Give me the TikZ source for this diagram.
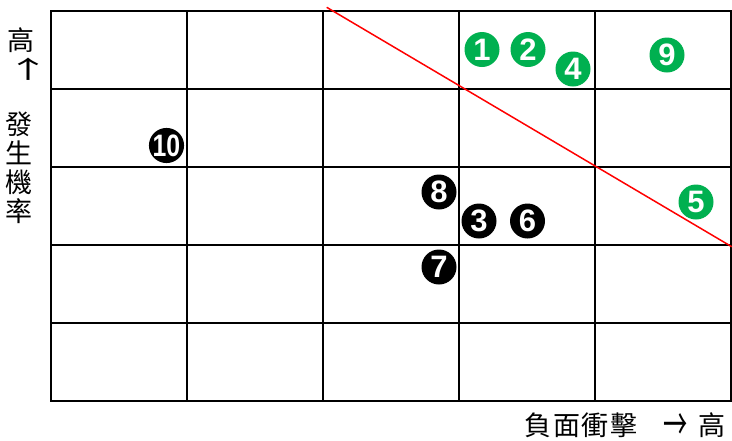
\documentclass[tikz,border=0pt]{standalone}
\usepackage{fontspec}
\newfontfamily\cjk{Noto Sans CJK TC}
\newfontfamily\digitfont{Liberation Sans}
\definecolor{riskgreen}{HTML}{00B050}
\begin{document}
\begin{tikzpicture}[x=1pt,y=-1pt,
  gridline/.style={line width=2.8pt,black},
  riskline/.style={line width=1.5pt,red},
  marker/.style={circle,inner sep=0pt,minimum size=35pt,text=white,
    font=\digitfont\bfseries\fontsize{31}{31}\selectfont},
  greenmark/.style={marker,fill=riskgreen},
  blackmark/.style={marker,fill=black},
  axislabel/.style={font=\cjk\fontsize{27}{29}\selectfont,inner sep=0pt,align=center},
  arrowlabel/.style={font=\cjk\fontseries{m}\fontsize{44}{44}\selectfont,inner sep=0pt}]
\useasboundingbox (0,0) rectangle (732,440);
% grid
\foreach \x in {187,323,459,595} \draw[gridline] (\x,11) -- (\x,401);
\foreach \y in {89,167,245,323} \draw[gridline] (51,\y) -- (731,\y);
\draw[gridline] (51,11) rectangle (731,401);
% red boundary line
\coordinate (rs) at (326.7,7.3);
\coordinate (re) at (731.7,246.7);
\draw[riskline] (rs) -- (re);
% markers
\node[greenmark] (m1) at (482,49.5) {1};
\node[greenmark] (m2) at (528,49.5) {2};
\node[greenmark] (m4) at (573,69) {4};
\node[greenmark] (m9) at (667,55) {9};
\node[greenmark] (m5) at (696,202) {5};
\node[blackmark] (m10) at (166.5,145.5) {\scalebox{0.8}[1]{10}};
\node[blackmark] (m8) at (439,192) {8};
\node[blackmark] (m3) at (479,221) {3};
\node[blackmark] (m6) at (527.5,221) {6};
\node[blackmark] (m7) at (439,267) {7};
% axis labels
\node[axislabel] (yhigh) at (21,40) {高};
\node[arrowlabel] (yarrow) at (28,69) {\scalebox{1}[0.55]{↑}};
\node[axislabel] (ytitle) at (19,167.5) {發\\生\\機\\率};
\node[axislabel] (xtitle) at (581,425) {\addfontfeature{LetterSpace=5}負面衝擊};
\node[arrowlabel] (xarrow) at (676,427) {\scalebox{0.55}[1]{→}};
\node[axislabel] (xhigh) at (711.5,425) {高};
\end{tikzpicture}
\end{document}
